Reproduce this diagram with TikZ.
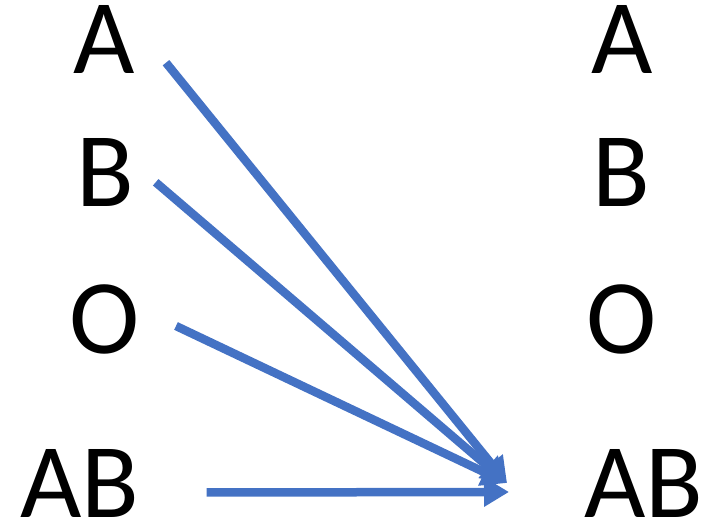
\documentclass[tikz,border=0pt]{standalone}
\usepackage{fontspec}
\setmainfont{Carlito}
\usetikzlibrary{arrows.meta}
\definecolor{arrowblue}{HTML}{4472C4}
\begin{document}
\begin{tikzpicture}[x=1pt, y=1pt,
    letter/.style={font=\fontsize{106}{106}\selectfont, inner sep=0pt,
                   text height=0.64em, text depth=0pt, anchor=base},
    arr/.style={draw=arrowblue, line width=8.5pt,
                -{Triangle[length=25pt, width=28pt, fill=arrowblue]}},
  ]
    \useasboundingbox (0,0) rectangle (709,532);

    % linke Spalte
    \node[letter] (lA)  at (104.5,458) {A};
    \node[letter] (lB)  at (105,325)   {B};
    \node[letter] (lO)  at (105,178)   {O};
    \node[letter] (lAB) at (79.5,14)   {AB};

    % rechte Spalte
    \node[letter] (rA)  at (622,458) {A};
    \node[letter] (rB)  at (621,325) {B};
    \node[letter] (rO)  at (621.5,178) {O};
    \node[letter] (rAB) at (643.5,14) {AB};

    % Anfangs- und Endpunkte
    \coordinate (sA)  at (166,469.3);
    \coordinate (sB)  at (155.7,349.7);
    \coordinate (sO)  at (176,206);
    \coordinate (sAB) at (206.7,39.5);
    \coordinate (tip)   at (507,49);
    \coordinate (tipAB) at (509,40);

    % Pfeile
    \draw[arr] (sA) -- (tip);
    \draw[arr] (sB) -- (tip);
    \draw[arr] (sO) -- (tip);
    \draw[arr] (sAB) -- (tipAB);
  \end{tikzpicture}
\end{document}
